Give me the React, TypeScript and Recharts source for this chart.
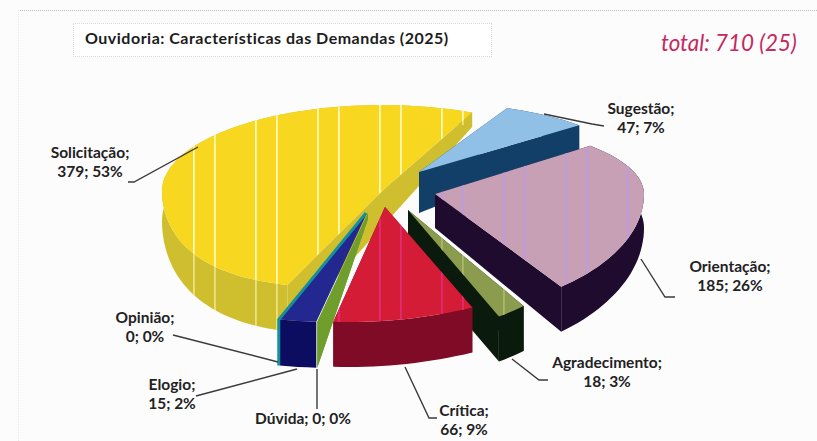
import { PieChart, Pie, Cell } from "recharts";

const CATEGORIES = ["Solicitação", "Sugestão", "Orientação", "Agradecimento", "Crítica", "Dúvida", "Elogio", "Opinião"];
const DEMANDS = [379, 47, 185, 18, 66, 0, 15, 0];
const TOTAL_LABEL = "total: 710 (25)";
const TITLE = "Ouvidoria: Características das Demandas (2025)";

const data = CATEGORIES.map((name, i) => ({ name, value: DEMANDS[i] }));

const TOP_COLORS = ["#f7d720", "#90c0e6", "#c8a0b6", "#8b9c4e", "#d51c37", "#6f9e2c", "#22288f", "#14909c"];
const WALL_COLORS = ["#cfbf2e", "#123f68", "#1f0b2e", "#0a1a0c", "#7f0b26", "#6f9e2c", "#0c0c60", "#14909c"];
const STRIPE_COLORS = ["#fff8b8", null, "#bd9be0", "#a9b86a", "#e22a72", null, null, null];

const CX = 392;
const CY = 205;
const RADIUS = 220;

// per-slice explosion and fake 3d projection, fitted by eye to the old Excel chart
// dx/dy explode the apex, wide scales the radius, back/front = vertical radius,
// shear skews the front edge, h/hv = wall height and its growth towards the viewer,
// apexH = wall height at the apex
const SLICE_3D = [
  { dx: -10, dy: -14, wide: 1.0, back: 86, front: 96, shear: -51, h: 30, hv: 17, apexH: 36 },
  { dx: 27, dy: -33, wide: 0.98, back: 70, front: 70, shear: 0, h: 41, hv: 24, apexH: 41 },
  { dx: 43, dy: -11, wide: 0.95, back: 72, front: 118, shear: -5, h: 34, hv: 14, apexH: 34 },
  { dx: 16, dy: 5, wide: 0.85, back: 100, front: 122, shear: 0, h: 45, hv: 0, apexH: 45 },
  { dx: -7, dy: 2, wide: 1.06, back: 100, front: 115, shear: -34, h: 45, hv: 0, apexH: 45 },
  { dx: -24, dy: 8, wide: 1.3, back: 100, front: 109, shear: -29, h: 46, hv: 0, apexH: 6 },
  { dx: -25, dy: 8, wide: 1.3, back: 100, front: 109, shear: -29, h: 46, hv: 0, apexH: 46 },
  { dx: -26, dy: 8, wide: 1.3, back: 100, front: 109, shear: -29, h: 46, hv: 0, apexH: 46 },
];

// label centre, first baseline and leader line, in picture pixels
const LABEL_LAYOUT = [
  { x: 90, y: 158, line: "198,147 134,182 128,182" },
  { x: 641, y: 114, line: "544,114 592,124 604,126" },
  { x: 730, y: 272, line: "641,259 665,297 675,297" },
  { x: 607, y: 368, line: "512,359 539,380 548,380" },
  { x: 464, y: 416, line: "405,367 429,418 437,418" },
  { x: 303, y: 424, line: "317,369 317,409" },
  { x: 172, y: 390, line: "297,369 196,396" },
  { x: 145, y: 323, line: "278,362 173,335" },
];

const LABEL_FONT = "Lato, 'Open Sans', sans-serif";

function project(g: (typeof SLICE_3D)[number], cx: number, cy: number, r: number, deg: number, radial = 1) {
  const t = (deg * Math.PI) / 180;
  const sin = Math.sin(t);
  const v = -Math.cos(t);
  const skew = v > 0 ? g.shear * v * v : 0;
  const x = cx + g.dx + radial * (r * g.wide * sin + skew);
  const y = cy + g.dy + radial * v * (v > 0 ? g.front : g.back);
  return { x, y, wall: radial === 0 ? g.apexH : g.h + g.hv * v };
}

const toPath = (pts: { x: number; y: number }[]) =>
  "M" + pts.map((p) => `${p.x.toFixed(1)},${p.y.toFixed(1)}`).join("L") + "Z";

function Slice3D(props: any) {
  const { cx, cy, outerRadius, startAngle, endAngle, index } = props;
  const g = SLICE_3D[index];
  const a = 90 - startAngle;
  const b = 90 - endAngle;
  const steps = Math.max(1, Math.ceil(Math.abs(b - a) / 2));
  const arc = [];
  for (let i = 0; i <= steps; i++) arc.push(project(g, cx, cy, outerRadius, a + ((b - a) * i) / steps));
  const apex = project(g, cx, cy, outerRadius, a, 0);
  const lift = (p: any) => ({ x: p.x, y: p.y + p.wall });
  const name = CATEGORIES[index];

  // Opinião is a zero slice that only shows as a thin edge next to Elogio
  if (name === "Opinião") {
    const o = arc[0];
    return (
      <polyline
        points={`${apex.x},${apex.y} ${o.x},${o.y} ${o.x},${o.y + o.wall}`}
        fill="none"
        stroke={WALL_COLORS[index]}
        strokeWidth={3}
      />
    );
  }

  const first = arc[0];
  const last = arc[arc.length - 1];
  const wallA = toPath([apex, first, lift(first), lift(apex)]);
  const wallB = toPath([apex, last, lift(last), lift(apex)]);
  const wallArc = toPath([...arc, ...arc.slice().reverse().map(lift)]);
  const top = toPath([apex, ...arc]);
  const wallColor = WALL_COLORS[index];
  const stripe = STRIPE_COLORS[index];

  return (
    <g>
      <path d={wallArc} fill={wallColor} />
      {/* Elogio's side walls are the neighbouring zero slices */}
      {name !== "Elogio" && <path d={wallA} fill={wallColor} />}
      {name !== "Elogio" && <path d={wallB} fill={wallColor} />}
      {stripe && index === 0 && <path d={wallArc} fill={`url(#stripes${index})`} opacity={0.6} />}
      {DEMANDS[index] > 0 && <path d={top} fill={TOP_COLORS[index]} />}
      {stripe && <path d={top} fill={`url(#stripes${index})`} />}
    </g>
  );
}

function SliceLabel(props: any) {
  const { index, name, value, percent } = props;
  const layout = LABEL_LAYOUT[index];
  const pct = `${Math.round((percent ?? 0) * 100)}%`;
  const oneLine = name === "Dúvida";
  return (
    <g>
      <polyline points={layout.line} fill="none" stroke="#3a3a3a" strokeWidth={1.4} />
      <text
        x={layout.x}
        y={layout.y}
        textAnchor="middle"
        fontFamily={LABEL_FONT}
        fontWeight={700}
        fontSize={15.5}
        fill="#222"
      >
        {oneLine ? (
          `${name}; ${value}; ${pct}`
        ) : (
          <>
            <tspan x={layout.x}>{name};</tspan>
            <tspan x={layout.x} dy={18.5}>
              {value}; {pct}
            </tspan>
          </>
        )}
      </text>
    </g>
  );
}

export default function App() {
  return (
    <div style={{ position: "absolute", left: 0, top: 0, width: 817, height: 441, background: "#fdfcfd" }}>
      <div style={{ position: "absolute", left: 18, right: 0, top: 10, borderTop: "1px dotted #b9c0c8" }} />
      <div style={{ position: "absolute", left: 18, top: 10, bottom: 0, borderLeft: "1px dotted #e4e6ea" }} />
      <div
        style={{
          position: "absolute",
          left: 73,
          top: 23,
          width: 419,
          height: 34,
          boxSizing: "border-box",
          background: "#ffffff",
          border: "1px dotted #d5dae0",
          fontFamily: LABEL_FONT,
          fontWeight: 700,
          fontSize: 16,
          letterSpacing: 0.5,
          lineHeight: "28px",
          paddingLeft: 11,
          color: "#1c1c1c",
          whiteSpace: "nowrap",
        }}
      >
        {TITLE}
      </div>
      <div
        style={{
          position: "absolute",
          left: 661,
          top: 29,
          fontFamily: "Lato, sans-serif",
          fontStyle: "italic",
          fontSize: 22.4,
          lineHeight: "28px",
          color: "#c4295f",
          whiteSpace: "nowrap",
        }}
      >
        {TOTAL_LABEL}
      </div>
      <div style={{ position: "absolute", left: 0, top: 0 }}>
        <PieChart width={817} height={441} margin={{ top: 0, right: 0, bottom: 0, left: 0 }}>
          <defs>
            {STRIPE_COLORS.map((c, i) =>
              c ? (
                <pattern key={i} id={`stripes${i}`} patternUnits="userSpaceOnUse" x={193} y={0} width={62} height={10}>
                  <rect x={0} y={0} width={1.8} height={10} fill={c} />
                  <rect x={21} y={0} width={1.8} height={10} fill={c} />
                </pattern>
              ) : null,
            )}
          </defs>
          <Pie
            data={data}
            dataKey="value"
            nameKey="name"
            cx={CX}
            cy={CY}
            outerRadius={RADIUS}
            startAngle={90 - 192}
            endAngle={90 - 192 - 360}
            isAnimationActive={false}
            stroke="none"
            shape={Slice3D}
            label={SliceLabel}
            labelLine={false}
          >
            {data.map((d, i) => (
              <Cell key={d.name} fill={TOP_COLORS[i]} />
            ))}
          </Pie>
        </PieChart>
      </div>
    </div>
  );
}
